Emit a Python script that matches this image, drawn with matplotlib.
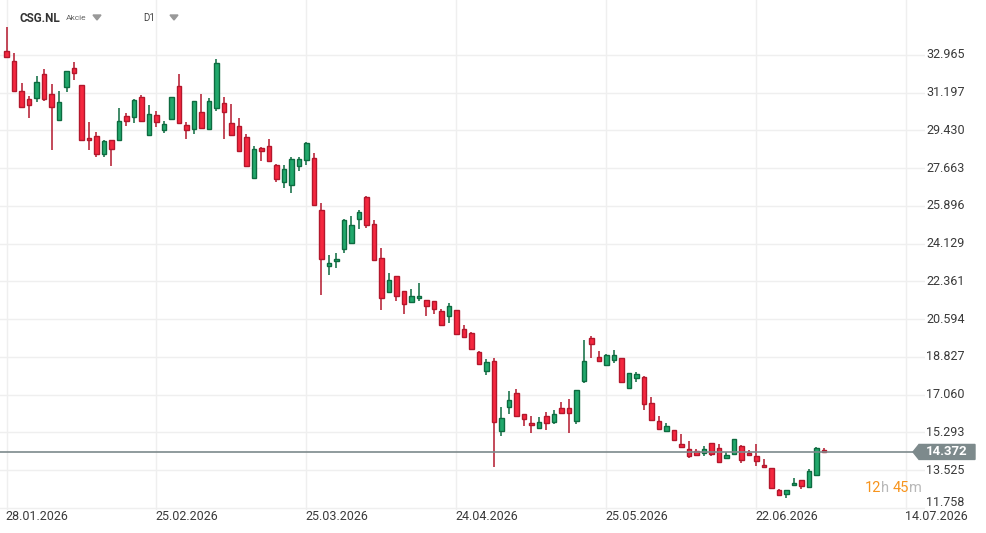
import numpy as np
import matplotlib
matplotlib.use('Agg')
import matplotlib.pyplot as plt
from matplotlib.patches import Polygon

plt.rcParams['font.family'] = ['Roboto', 'DejaVu Sans']

# OHLC denni svicky CSG.NL
opens = [33.14, 32.67, 31.26, 30.89, 30.94, 32.08, 31.12, 29.91, 31.45, 32.34,
         31.55, 29.08, 29.16, 28.31, 28.97, 28.97, 30.09, 30.05, 30.98, 29.20,
         30.14, 29.44, 29.95, 31.50, 29.67, 29.49, 30.28, 29.49, 30.47, 30.70,
         29.77, 29.63, 29.11, 27.19, 28.60, 28.69, 27.80, 27.00, 26.86, 27.75,
         28.03, 28.13, 25.69, 23.07, 23.30, 23.86, 24.15, 25.27, 26.30, 25.04,
         23.44, 21.85, 22.60, 21.90, 21.38, 21.57, 21.47, 21.43, 20.96, 20.73,
         21.01, 20.12, 19.93, 19.04, 18.15, 18.62, 15.34, 16.46, 17.12, 16.14,
         15.71, 15.48, 16.04, 15.76, 16.42, 16.42, 15.81, 17.68, 19.70, 18.81,
         18.43, 18.67, 18.76, 17.35, 17.82, 17.87, 16.65, 15.81, 15.34, 15.39,
         14.73, 14.50, 14.40, 14.31, 14.78, 14.54, 14.07, 14.26, 14.64, 14.31,
         14.17, 13.75, 13.61, 12.58, 12.39, 12.81, 13.04, 12.72, 13.28, 14.45]
highs = [34.29, 33.06, 31.65, 31.04, 31.98, 32.30, 31.61, 31.28, 32.20, 32.64,
         31.58, 29.83, 29.34, 28.98, 28.99, 30.48, 30.25, 30.90, 31.08, 30.61,
         30.34, 29.86, 31.00, 32.08, 29.81, 30.82, 31.12, 30.94, 32.76, 30.98,
         30.66, 30.00, 29.25, 28.69, 28.64, 29.02, 27.85, 27.80, 28.17, 28.17,
         28.88, 28.36, 26.02, 23.58, 23.68, 25.27, 25.41, 25.69, 26.35, 25.22,
         23.91, 22.74, 22.62, 21.92, 21.99, 22.27, 21.49, 21.45, 21.05, 21.33,
         21.03, 20.30, 19.98, 19.09, 18.71, 18.76, 16.46, 17.21, 17.31, 16.16,
         16.04, 16.00, 16.23, 16.32, 16.70, 16.84, 17.28, 19.60, 19.79, 19.09,
         18.95, 19.13, 18.78, 18.08, 18.10, 17.92, 16.93, 16.04, 15.71, 15.41,
         15.20, 14.87, 14.50, 14.64, 14.80, 14.73, 14.36, 14.98, 14.68, 14.45,
         14.73, 14.03, 13.63, 12.62, 12.60, 13.14, 13.06, 13.56, 14.59, 14.54]
lows = [32.81, 31.26, 30.50, 30.03, 30.78, 30.82, 28.53, 29.89, 31.25, 31.79,
        28.95, 28.53, 28.20, 28.20, 27.78, 28.95, 29.65, 29.79, 29.84, 29.18,
        29.58, 29.30, 29.93, 29.75, 29.02, 29.25, 29.49, 29.47, 30.33, 29.02,
        29.18, 28.44, 27.73, 27.17, 28.01, 27.97, 27.00, 26.72, 26.49, 27.52,
        27.80, 25.90, 21.74, 22.67, 22.97, 23.68, 24.13, 24.80, 24.85, 23.33,
        21.03, 21.80, 21.43, 20.82, 21.33, 21.43, 20.73, 20.82, 20.28, 20.40,
        19.86, 19.72, 19.13, 18.46, 17.96, 13.65, 15.11, 16.14, 16.02, 15.57,
        15.25, 15.46, 15.39, 15.67, 16.16, 15.25, 15.67, 17.59, 18.76, 18.57,
        18.38, 18.52, 17.61, 17.33, 17.63, 16.32, 15.83, 15.41, 15.29, 14.90,
        14.57, 14.07, 14.20, 14.17, 14.17, 13.84, 14.03, 14.24, 13.84, 14.20,
        13.70, 13.63, 12.62, 12.29, 12.20, 12.79, 12.62, 12.70, 13.26, 14.35]
closes = [32.86, 31.28, 30.52, 30.61, 31.69, 30.92, 30.52, 30.75, 32.20, 32.11,
          28.97, 28.97, 28.31, 28.94, 28.55, 29.86, 29.86, 30.84, 29.86, 30.19,
          29.81, 29.72, 30.98, 29.77, 29.44, 30.80, 29.53, 30.80, 32.58, 30.28,
          29.20, 28.48, 27.75, 28.55, 28.45, 27.99, 27.14, 27.61, 28.08, 28.08,
          28.83, 25.92, 23.40, 23.21, 23.40, 25.22, 24.99, 25.60, 24.99, 23.35,
          21.57, 22.41, 21.66, 21.29, 21.66, 21.66, 21.19, 21.05, 20.30, 21.19,
          19.88, 19.74, 19.18, 18.48, 18.57, 15.79, 15.95, 16.79, 16.04, 15.90,
          15.62, 15.76, 15.71, 16.14, 16.18, 16.18, 17.26, 18.62, 19.41, 18.62,
          18.90, 18.90, 17.63, 18.06, 18.01, 16.60, 15.85, 15.43, 15.57, 14.92,
          14.59, 14.17, 14.22, 14.50, 14.26, 13.89, 14.22, 14.96, 13.98, 14.22,
          13.93, 13.65, 12.67, 12.34, 12.58, 12.90, 12.76, 13.47, 14.54, 14.372]

date_labels = ['28.01.2026', '25.02.2026', '25.03.2026', '24.04.2026',
               '25.05.2026', '22.06.2026', '14.07.2026']
date_pos = [0, 20, 40, 60, 80, 100, 120]
price_ticks = [32.965, 31.197, 29.430, 27.663, 25.896, 24.129, 22.361,
               20.594, 18.827, 17.060, 15.293, 13.525, 11.758]
last_price = 14.372

W, H = 986, 533
fig = plt.figure(figsize=(W / 100, H / 100), dpi=100)
# plocha grafu v pixelech: x 0..925, y 0..510 (shora)
ax = fig.add_axes([0, 1 - 510 / H, 925 / W, 510 / H])

o = np.array(opens); h = np.array(highs); l = np.array(lows); c = np.array(closes)
idx = np.arange(len(o))
up = c >= o

red_fill, red_edge = '#f5283f', '#b3172c'
green_fill, green_edge = '#22a86c', '#0d6b40'

ax.vlines(idx[up], l[up], h[up], color=green_edge, lw=1.1, zorder=3)
ax.vlines(idx[~up], l[~up], h[~up], color=red_edge, lw=1.1, zorder=3)
body_lo = np.minimum(o, c)
body_h = np.maximum(np.abs(c - o), 0.05)
ax.bar(idx[up], body_h[up], bottom=body_lo[up], width=0.66, color=green_fill,
       edgecolor=green_edge, linewidth=1.0, zorder=4)
ax.bar(idx[~up], body_h[~up], bottom=body_lo[~up], width=0.66, color=red_fill,
       edgecolor=red_edge, linewidth=1.0, zorder=4)

# osy
ax.set_xlim(-0.867, 122.47)
ax.set_ylim(11.653, 35.541)
for s in ax.spines.values():
    s.set_visible(False)
ax.set_xticks(date_pos)
ax.set_xticklabels([])
ax.set_yticks(price_ticks)
ax.set_yticklabels([])
ax.tick_params(length=0)
ax.grid(True, color='#efefef', lw=1.0, zorder=0)
ax.set_axisbelow(True)


def fig_y(p):  # cena -> souradnice figury
    return ax.transData.transform((0, p))[1] / H


# popisky osy y (vpravo)
for p in price_ticks:
    yy = fig_y(p)
    if p < 12:
        yy += 5 / H  # posledni popisek je posunuty nahoru
    fig.text(926 / W, yy, f'{p:.3f}', ha='left', va='center', fontsize=9,
             color='#3a3a3a')

# popisky data
for pos, lab in zip(date_pos, date_labels):
    xx = ax.transData.transform((pos, 0))[0] / W
    fig.text(xx - 1.5 / W, 1 - 516 / H, lab, ha='left', va='center',
             fontsize=9, color='#3a3a3a')

# aktualni cena
ax.axhline(last_price, color='#7d8a8c', lw=1.2, zorder=6)
ly = fig_y(last_price)
tag = Polygon([(913 / W, ly), (919 / W, ly + 7.5 / H), (975 / W, ly + 7.5 / H),
               (975 / W, ly - 7.5 / H), (919 / W, ly - 7.5 / H)],
              closed=True, transform=fig.transFigure, color='#7d8a8c', zorder=10)
fig.patches.append(tag)
fig.text(947 / W, ly, f'{last_price:.3f}', ha='center', va='center',
         fontsize=9.5, color='white', fontweight='bold', zorder=11)

# odpocet
cy = 1 - 488 / H
parts = [('12', '#f7941d'), ('h ', '#b8b8b8'), ('45', '#f7941d'), ('m', '#b8b8b8')]
xt = 865 / W
r = fig.canvas.get_renderer()
for txt, col in parts:
    t = fig.text(xt, cy, txt, ha='left', va='center', fontsize=10.5, color=col)
    bb = t.get_window_extent(renderer=r)
    xt += bb.width / W

# hlavicka
fig.text(20 / W, 1 - 18 / H, 'CSG.NL', ha='left', va='center', fontsize=8.5,
         fontweight='bold', color='#333333')
fig.text(66 / W, 1 - 18.5 / H, 'Akcie', ha='left', va='center', fontsize=6,
         color='#666666')
fig.text(143 / W, 1 - 18 / H, 'D1', ha='left', va='center', fontsize=7,
         color='#444444')
for tx in (97, 174):
    tri = Polygon([((tx - 4) / W, 1 - 15 / H), ((tx + 4) / W, 1 - 15 / H),
                   (tx / W, 1 - 20 / H)], closed=True, transform=fig.transFigure,
                  color='#999999')
    fig.patches.append(tri)

fig.savefig('out.png', dpi=100)
